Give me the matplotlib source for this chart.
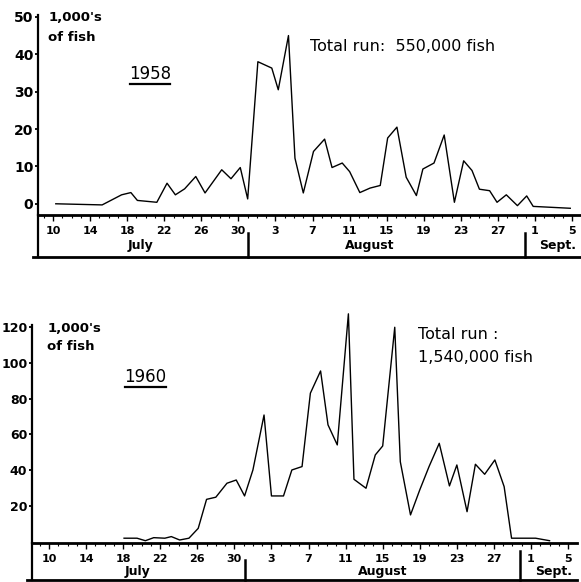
import matplotlib
matplotlib.use("Agg")
import matplotlib.pyplot as plt
from matplotlib.transforms import blended_transform_factory

# day numbers counted from 1 July (so 1 Aug = 32)
days_1958 = [10.3, 15.3, 17.4, 18.4, 19.1, 21.2, 22.3, 23.2, 24.2, 25.4, 26.4,
             28.2, 29.2, 30.2, 31.0, 32.1, 33.6, 34.3, 35.4, 36.1, 37.0, 38.1,
             39.3, 40.1, 41.2, 42.0, 43.1, 44.2, 45.3, 46.1, 47.1, 48.1, 49.2,
             49.9, 51.1, 52.2, 53.3, 54.3, 55.2, 56.0, 57.1, 57.9, 58.9, 60.1,
             61.1, 61.8, 65.8]
fish_1958 = [0.0, -0.3, 2.4, 3.0, 0.9, 0.4, 5.5, 2.4, 4.0, 7.3, 2.9,
             9.1, 6.7, 9.7, 1.3, 38.0, 36.3, 30.5, 45.0, 12.2, 2.9, 14.0,
             17.3, 9.7, 10.9, 8.6, 3.0, 4.2, 4.9, 17.6, 20.5, 7.1, 2.2,
             9.3, 10.9, 18.4, 0.4, 11.5, 8.9, 3.9, 3.5, 0.4, 2.4, -0.5,
             2.1, -0.7, -1.2]

days_1960 = [18.1, 19.5, 20.4, 21.3, 22.5, 23.2, 24.1, 25.1, 26.1, 27.0, 28.0,
             29.2, 30.2, 31.1, 32.0, 33.2, 34.0, 35.3, 36.2, 37.3, 38.2, 39.3,
             40.1, 41.1, 42.3, 42.9, 44.2, 45.2, 46.0, 47.3, 47.9, 49.0, 50.0,
             51.0, 52.1, 53.2, 54.0, 55.1, 56.0, 57.0, 58.1, 59.1, 59.9, 61.3,
             62.5, 64.0]
fish_1960 = [2.0, 2.0, 0.6, 2.3, 2.0, 2.9, 1.0, 2.0, 7.5, 23.7, 24.9,
             32.7, 34.5, 25.6, 40.1, 70.8, 25.6, 25.6, 40.1, 42.0, 83.0, 95.4,
             65.3, 54.1, 127.3, 34.9, 29.9, 48.5, 53.5, 119.8, 44.7, 15.0, 29.0,
             42.0, 55.0, 31.2, 42.9, 16.8, 43.3, 37.7, 45.7, 30.8, 2.0, 2.0,
             2.0, 0.6]

tick_days = [10, 14, 18, 22, 26, 30, 34, 38, 42, 46, 50, 54, 58, 62, 66]
tick_labels = ["10", "14", "18", "22", "26", "30", "3", "7", "11", "15",
               "19", "23", "27", "1", "5"]
months = ["July", "August", "Sept."]

W, H = 581, 582
fig = plt.figure(figsize=(W / 100, H / 100), dpi=100)
plt.rcParams["font.family"] = "DejaVu Sans"


def panel(box, days, fish, xlim, ylim, ybound, yticks, ysize, year, year_xy, uline,
          total, total_xy, unit_xy, month_x, month_dy, divs, div_top, box_dy):
    left, right, top, bottom = box
    ax = fig.add_axes([left / W, 1 - bottom / H, (right - left) / W, (bottom - top) / H])
    h = bottom - top
    w = right - left
    ax.plot(days, fish, color="black", lw=1.0, clip_on=False)
    ax.set_xlim(*xlim)
    ax.set_ylim(*ylim)
    for s in ["top", "right"]:
        ax.spines[s].set_visible(False)
    ax.spines["left"].set_linewidth(1.6)
    ax.spines["left"].set_bounds(ylim[0], ybound)
    ax.spines["bottom"].set_linewidth(2)

    ax.set_yticks(yticks)
    ax.set_yticklabels([str(v) for v in yticks])
    ax.tick_params(axis="y", direction="out", length=2.5, width=1.3, pad=0.8,
                   labelsize=ysize)
    ax.set_xticks(tick_days)
    ax.set_xticklabels(tick_labels)
    ax.set_xticks(range(9, 67), minor=True)
    ax.tick_params(axis="x", which="major", direction="out", length=4, width=1,
                   pad=4, labelsize=8)
    ax.tick_params(axis="x", which="minor", direction="out", length=2, width=0.8)
    for lab in ax.get_xticklabels() + ax.get_yticklabels():
        lab.set_fontweight("bold")

    # month box below the axis
    tr = blended_transform_factory(ax.transData, ax.transAxes)
    ax.plot([0, 0], [0, -box_dy / h], transform=ax.transAxes, color="black",
            lw=1.6, clip_on=False)
    ax.plot([-5 / w, 1], [-box_dy / h, -box_dy / h], transform=ax.transAxes,
            color="black", lw=2, clip_on=False)
    for d, dt in zip(divs, div_top):
        ax.plot([d, d], [-dt / h, -box_dy / h], transform=tr, color="black",
                lw=1.8, clip_on=False)
    for m, mx in zip(months, month_x):
        ax.text(mx, -month_dy / h, m, transform=tr, ha="center", va="center",
                fontsize=9, fontweight="bold")

    ax.text(unit_xy[0], unit_xy[1], "1,000's", ha="left", va="center",
            fontsize=9.5, fontweight="bold")
    ax.text(unit_xy[0], unit_xy[2], "of fish", ha="left", va="center",
            fontsize=9.5, fontweight="bold")
    ax.text(year_xy[0], year_xy[1], year, ha="center", va="center", fontsize=12)
    ax.plot(uline[:2], [uline[2], uline[2]], color="black", lw=1.6)
    for t, y in zip(total, total_xy[1:]):
        ax.text(total_xy[0], y, t, ha="left", va="center", fontsize=11.5)
    return ax


panel((38, 580, 15, 215), days_1958, fish_1958, (8.38, 66.85), (-3, 50.5), 50.5,
      [0, 10, 20, 30, 40, 50], 10, "1958", (20.5, 34.8), (18.3, 22.6, 32.1),
      ["Total run:  550,000 fish"], (37.7, 42.0), (9.5, 49.7, 44.4),
      [19.4, 44.2, 64.4], 30, [31.05, 60.9], [18, 18], 42)

panel((32, 577, 309, 542.5), days_1960, fish_1960, (8.17, 66.96), (-0.4, 130), 121,
      [20, 40, 60, 80, 100, 120], 9, "1960", (20.4, 92.0), (18.2, 22.6, 86.5),
      ["Total run :", "1,540,000 fish"], (49.8, 116.0, 102.7), (9.8, 118.9, 108.8),
      [19.5, 46.0, 64.4], 28.5, [31.1, 60.8], [17.5, 8], 37.5)

fig.savefig("out.png", dpi=100)
